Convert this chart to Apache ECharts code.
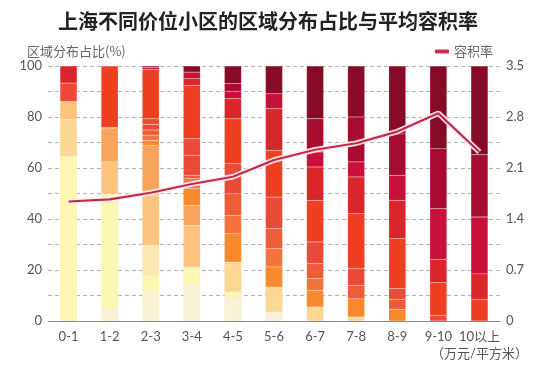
<!DOCTYPE html>
<html><head><meta charset="utf-8">
<script src="https://cdn.jsdelivr.net/npm/echarts@6/dist/echarts.min.js"></script>
<style>html,body{margin:0;padding:0;background:#fff}#c{width:548px;height:368px}</style>
</head><body><div id="c"></div>
<script>
const categories = ['0-1','1-2','2-3','3-4','4-5','5-6','6-7','7-8','8-9','9-10','10以上'];
const unitLabel = '（万元/平方米）';
const yLeftTicks = [0, 20, 40, 60, 80, 100];
const yRightTicks = [0, 0.7, 1.4, 2.1, 2.8, 3.5];
// share (%) of each colour level (bottom -> top) in each price band
const s00 = [0, 4.8, 11.4, 14.6, 9.4, 3.5, 0, 0, 0, 0, 0];
const s01 = [64.6, 45.1, 6.5, 6.6, 2.0, 0, 0, 0, 0, 0, 0];
const s02 = [0, 0, 11.8, 0, 0, 0, 0, 0, 0, 0, 0];
const s03 = [14.5, 0, 0, 0, 11.7, 9.8, 5.5, 1.6, 0, 0, 0];
const s04 = [7.0, 12.5, 19.6, 16.3, 0, 0, 0, 0, 0, 0, 0];
const s05 = [0, 13.0, 19.6, 7.9, 0, 0, 0, 0, 0, 0, 0];
const s06 = [0, 0.6, 2.0, 6.5, 11.1, 7.9, 6.5, 7.1, 4.6, 0, 0];
const s07 = [0, 0, 2.0, 3.9, 7.2, 7.2, 4.6, 0, 0, 0, 0];
const s08 = [0, 0, 2.0, 1.3, 8.5, 7.8, 5.9, 5.3, 3.9, 0, 0];
const s09 = [0, 0, 2.2, 7.9, 11.8, 12.4, 8.5, 6.5, 4.2, 2.2, 0];
const s10 = [7.2, 0, 2.2, 6.5, 0, 0, 0, 0, 0, 0, 0];
const s11 = [0, 24.0, 19.4, 20.9, 17.6, 18.3, 16.3, 21.6, 19.6, 12.8, 8.5];
const s12 = [6.7, 0, 0, 2.6, 7.9, 16.4, 13.1, 14.4, 15.0, 9.2, 10.0];
const s13 = [0, 0, 0.7, 2.6, 2.9, 5.8, 5.9, 5.9, 9.8, 19.8, 22.3];
const s14 = [0, 0, 0, 0, 3.0, 0, 13.0, 17.6, 16.3, 23.6, 24.4];
const s15 = [0, 0, 0.6, 2.4, 6.9, 10.9, 20.7, 20.0, 26.6, 32.4, 34.8];
const plotRatio = [1.64, 1.67, 1.76, 1.88, 1.98, 2.21, 2.35, 2.44, 2.60, 2.85, 2.32];

const levels = [s00,s01,s02,s03,s04,s05,s06,s07,s08,s09,s10,s11,s12,s13,s14,s15];
const colors = ['#f9f3d6','#fcf7b2','#fbe9b4','#fcd894','#fcc47e','#f9a45c','#f8892c','#f4733a',
                '#ef5c3a','#ea4a3a','#ec4a36','#ee3f22','#d9262a','#c8113a','#a70b31','#870a29'];

const barSeries = levels.map((arr, i) => ({
  type: 'bar', name: 'L' + i, stack: 'share', barWidth: 17, yAxisIndex: 0, silent: true,
  itemStyle: { color: colors[i], borderColor: 'rgba(255,200,190,0.35)', borderWidth: 0.4 },
  data: arr.map(v => v === 0 ? null : v)
}));

const chart = echarts.init(document.getElementById('c'), null, { renderer: 'canvas' });
const font = 'Lato, "Noto Sans CJK SC", sans-serif';
chart.setOption({
  animation: false,
  backgroundColor: '#fff',
  title: [
    { text: '上海不同价位小区的区域分布占比与平均容积率', left: 53, top: 6,
      textStyle: { fontSize: 20, fontWeight: 'bold', color: '#222', fontFamily: '"Noto Sans CJK SC", sans-serif' } },
    { text: '区域分布占比(%)', left: 22, top: 40,
      textStyle: { fontSize: 13, fontWeight: 'normal', color: '#666', fontFamily: '"Noto Sans CJK SC", sans-serif' } }
  ],
  legend: {
    data: [{ name: '容积率', icon: 'roundRect' }], right: 50, top: 40, itemWidth: 14, itemHeight: 4, itemGap: 4,
    textStyle: { fontSize: 13, color: '#666', fontFamily: '"Noto Sans CJK SC", sans-serif' }
  },
  grid: { left: 48, right: 48, top: 66, bottom: 47, containLabel: false },
  xAxis: {
    type: 'category', data: categories,
    axisTick: { show: false },
    axisLine: { lineStyle: { color: '#888', width: 1 } },
    axisLabel: { interval: 0, color: '#555', fontSize: 13, fontFamily: font, margin: 7, lineHeight: 17,
      formatter: (v, i) => i === categories.length - 1 ? v + '\n' + unitLabel : v }
  },
  yAxis: [
    { type: 'value', min: 0, max: 100, interval: 10,
      axisLine: { show: false }, axisTick: { show: false },
      splitLine: { lineStyle: { color: '#b5b5b5', type: [4, 3], width: 1 } },
      axisLabel: { color: '#555', fontSize: 13, fontFamily: font, margin: 6,
        formatter: v => yLeftTicks.includes(v) ? String(v) : '' } },
    { type: 'value', min: 0, max: 3.5, interval: 0.35,
      axisLine: { show: false }, axisTick: { show: false }, splitLine: { show: false },
      axisLabel: { color: '#555', fontSize: 13, fontFamily: font, margin: 6,
        formatter: v => { const m = yRightTicks.find(t => Math.abs(t - v) < 1e-6); return m === undefined ? '' : (m === 0 ? '0' : m.toFixed(1)); } } }
  ],
  series: barSeries.concat([
    { type: 'line', name: 'halo', yAxisIndex: 1, data: plotRatio, symbol: 'none', silent: true, z: 9,
      lineStyle: { color: 'rgba(255,236,240,0.95)', width: 5.5 } },
    { type: 'line', name: '容积率', yAxisIndex: 1, data: plotRatio, symbol: 'none', z: 10,
      itemStyle: { color: '#c8304e' },
      lineStyle: { color: '#bf2c4a', width: 2.2 } }
  ])
});
</script></body></html>
